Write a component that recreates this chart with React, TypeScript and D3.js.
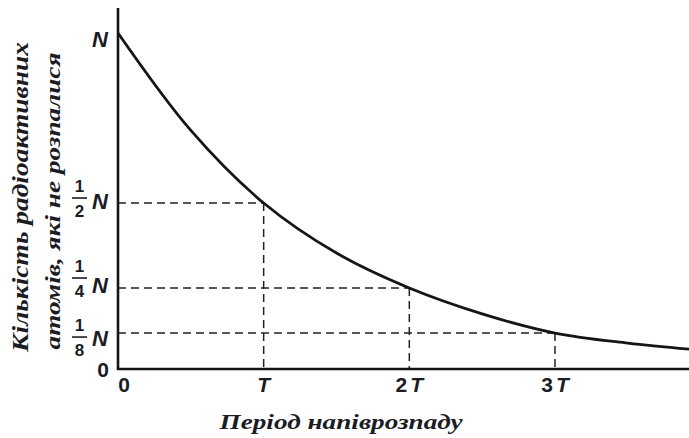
import * as d3 from "d3";

// decay curve (x in half-lives, y as share of N)
const curveT = [0, 0.5, 1, 1.5, 2, 2.5, 3, 3.5, 3.92];
const curveN = [1, 0.71, 0.494, 0.345, 0.241, 0.164, 0.107, 0.077, 0.059];

// x ticks
const periods = [0, 1, 2, 3];
const periodNum = ["0", "", "2", "3"];
const periodSym = ["", "T", "T", "T"];

// y levels marked with dashed guides
const levels = [0.494, 0.241, 0.107];
const levelAt = [1, 2, 3];
const levelDen = ["2", "4", "8"];

const yTitle1 = "Кількість радіоактивних";
const yTitle2 = "атомів, які не розпалися";
const xTitle = "Період напіврозпаду";

const width = 689;
const height = 438;
const ink = "#151515";
const textInk = "#1c1c24";
const sans = "'Liberation Sans', Arial, sans-serif";
const serif = "'Liberation Serif', 'Times New Roman', serif";

// layout nudges for fraction labels (px)
const barShift = [-5, -10, 4];
const nShift = [-2, -3, 5];

const App = () => {
  const x = d3.scaleLinear().domain([0, 3.92]).range([118, 689]);
  const y = d3.scaleLinear().domain([0, 1]).range([369, 33]);

  const pts = curveT.map((t, i) => [t, curveN[i]] as [number, number]);
  const line = d3
    .line<[number, number]>()
    .x((d) => x(d[0]))
    .y((d) => y(d[1]))
    .curve(d3.curveCatmullRom.alpha(0.5));

  return (
    <svg
      width={width}
      height={height}
      style={{ position: "absolute", left: 0, top: 0, background: "#fff" }}
    >
      {/* dashed guides */}
      {levels.map((v, i) => (
        <g key={"g" + i} stroke="#222" strokeWidth={1.5} strokeDasharray="8,5" fill="none">
          <line x1={x(0)} x2={x(levelAt[i])} y1={y(v)} y2={y(v)} />
          <line x1={x(levelAt[i])} x2={x(levelAt[i])} y1={y(v)} y2={y(0)} />
        </g>
      ))}

      {/* axes */}
      <line x1={x(0)} x2={x(0)} y1={8} y2={y(0) + 1} stroke={ink} strokeWidth={2.6} />
      <line x1={x(0) - 1} x2={width} y1={y(0)} y2={y(0)} stroke={ink} strokeWidth={2.6} />

      {/* curve */}
      <path d={line(pts) ?? ""} fill="none" stroke={ink} strokeWidth={2.8} />

      {/* y tick labels */}
      <text
        x={100}
        y={y(1) + 14}
        textAnchor="middle"
        fontFamily={sans}
        fontWeight="bold"
        fontStyle="italic"
        fontSize={22}
        fill={textInk}
      >
        N
      </text>
      {levels.map((v, i) => {
        const c = y(v) + barShift[i];
        return (
          <g key={"f" + i} fill={textInk} fontFamily={sans} fontWeight="bold">
            <text x={79.5} y={c - 6} textAnchor="middle" fontSize={17}>
              1
            </text>
            <line x1={72} x2={87} y1={c} y2={c} stroke={textInk} strokeWidth={1.6} />
            <text x={79.5} y={c + 19} textAnchor="middle" fontSize={17}>
              {levelDen[i]}
            </text>
            <text
              x={100}
              y={y(v) + nShift[i] + 8}
              textAnchor="middle"
              fontSize={22}
              fontStyle="italic"
            >
              N
            </text>
          </g>
        );
      })}
      <text
        x={103}
        y={377}
        textAnchor="middle"
        fontFamily={sans}
        fontWeight="bold"
        fontSize={21}
        fill={textInk}
      >
        0
      </text>

      {/* x tick labels */}
      {periods.map((p, i) => (
        <text
          key={"t" + i}
          x={x(p) + (p === 0 ? 6 : 0)}
          y={392}
          textAnchor="middle"
          fontFamily={sans}
          fontWeight="bold"
          fontSize={21}
          fill={textInk}
        >
          {periodNum[i]}
          <tspan fontStyle="italic" dx={periodNum[i] ? 3 : 0}>
            {periodSym[i]}
          </tspan>
        </text>
      ))}

      {/* axis titles */}
      <text
        x={341}
        y={429}
        textAnchor="middle"
        fontFamily={serif}
        fontWeight="bold"
        fontStyle="italic"
        fontSize={20}
        textLength={243}
        lengthAdjust="spacingAndGlyphs"
        fill={textInk}
      >
        {xTitle}
      </text>
      <text
        transform="translate(28,197) rotate(-90)"
        textAnchor="middle"
        fontFamily={serif}
        fontWeight="bold"
        fontStyle="italic"
        fontSize={24}
        textLength={310}
        lengthAdjust="spacingAndGlyphs"
        fill={textInk}
      >
        {yTitle1}
      </text>
      <text
        transform="translate(60,201) rotate(-90)"
        textAnchor="middle"
        fontFamily={serif}
        fontWeight="bold"
        fontStyle="italic"
        fontSize={20}
        textLength={297}
        lengthAdjust="spacingAndGlyphs"
        fill={textInk}
      >
        {yTitle2}
      </text>
    </svg>
  );
};

export default App;
